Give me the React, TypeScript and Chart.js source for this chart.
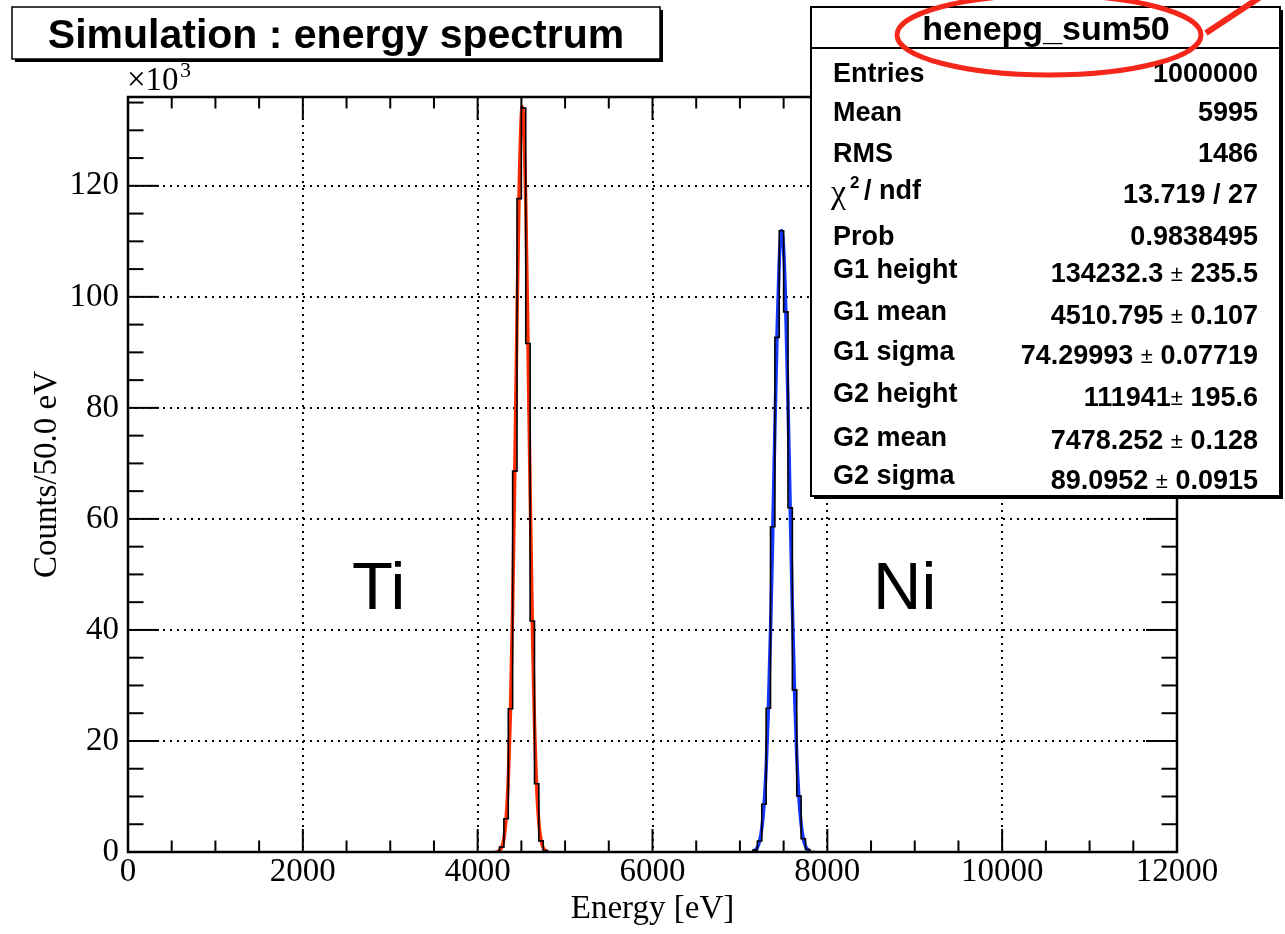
import React, { useEffect, useRef } from "react";
import { Chart, registerables } from "chart.js";

Chart.register(...registerables);

// ---------- data ----------
const BIN_WIDTH = 50;
const X_MIN = 0;
const X_MAX = 12000;
const Y_MAX = 136000;

const TI_BIN_LOW = [4200, 4250, 4300, 4350, 4400, 4450, 4500, 4550, 4600, 4650, 4700, 4750, 4800];
const TI_COUNTS = [80, 870, 6000, 25800, 68600, 117700, 134000, 91600, 41600, 12300, 2000, 240, 15];

const NI_BIN_LOW = [7100, 7150, 7200, 7250, 7300, 7350, 7400, 7450, 7500, 7550, 7600, 7650, 7700, 7750, 7800];
const NI_COUNTS = [43, 340, 1970, 8600, 25900, 58600, 92700, 111900, 97300, 62000, 29200, 10100, 2400, 440, 60];

const TI_FIT_E = [4225, 4250, 4275, 4300, 4325, 4350, 4375, 4400, 4425, 4450, 4475, 4500, 4510, 4525, 4550, 4575, 4600, 4625, 4650, 4675, 4700, 4725, 4750, 4775, 4800];
const TI_FIT_Y = [82, 283, 872, 2399, 5890, 12900, 25260, 44150, 68900, 96040, 119520, 132820, 134230, 131800, 116780, 92400, 65290, 41200, 23210, 11680, 5247, 2105, 754, 241, 69];

const NI_FIT_E = [7150, 7175, 7200, 7225, 7250, 7275, 7300, 7325, 7350, 7375, 7400, 7425, 7450, 7475, 7478, 7500, 7525, 7550, 7575, 7600, 7625, 7650, 7675, 7700, 7725, 7750, 7775, 7800];
const NI_FIT_Y = [126, 342, 854, 1971, 4208, 8297, 15130, 25500, 39730, 57200, 76120, 93630, 106460, 111870, 111940, 108650, 97550, 80940, 62070, 44000, 28830, 17460, 9776, 5060, 2419, 1070, 437, 165];

const X_MAJOR = 2000;
const X_MINOR = 500;
const Y_MAJOR = 20000;
const Y_MINOR = 5000;

const TITLE = "Simulation : energy spectrum";
const X_TITLE = "Energy [eV]";
const Y_TITLE = "Counts/50.0 eV";
const STATS_NAME = "henepg_sum50";
const STAT_LABELS = ["Entries", "Mean", "RMS", "CHI", "Prob", "G1 height", "G1 mean", "G1 sigma", "G2 height", "G2 mean", "G2 sigma"];
const STAT_VALUES = ["1000000", "5995", "1486", "13.719 / 27", "0.9838495", "134232.3 \u00b1 235.5", "4510.795 \u00b1 0.107", "74.29993 \u00b1 0.07719", "111941\u00b1 195.6", "7478.252 \u00b1 0.128", "89.0952 \u00b1 0.0915"];
const PEAK_LABELS = ["Ti", "Ni"];

// ---------- helpers ----------
function histPoints() {
  const pts: { x: number; y: number }[] = [{ x: X_MIN, y: 0 }];
  TI_BIN_LOW.forEach((e, i) => pts.push({ x: e, y: TI_COUNTS[i] }));
  pts.push({ x: TI_BIN_LOW[TI_BIN_LOW.length - 1] + BIN_WIDTH, y: 0 });
  NI_BIN_LOW.forEach((e, i) => pts.push({ x: e, y: NI_COUNTS[i] }));
  pts.push({ x: NI_BIN_LOW[NI_BIN_LOW.length - 1] + BIN_WIDTH, y: 0 });
  pts.push({ x: X_MAX, y: 0 });
  return pts;
}

function tickValues(min: number, max: number, step: number) {
  const out: { value: number }[] = [];
  for (let v = min; v <= max + 1e-6; v += step) out.push({ value: v });
  return out;
}

const SERIF = "'Liberation Serif', 'DejaVu Serif', serif";
const SANS = "'Liberation Sans', Arial, sans-serif";

const decoPlugin = {
  id: "rootDeco",
  afterDatasetsDraw(chart: any) {
    const { ctx, chartArea: a, scales } = chart;
    const xs = scales.x;
    const ys = scales.y;
    ctx.save();
    ctx.strokeStyle = "#000";
    ctx.lineWidth = 2;
    const seg = (x1: number, y1: number, x2: number, y2: number) => {
      ctx.beginPath();
      ctx.moveTo(x1, y1);
      ctx.lineTo(x2, y2);
      ctx.stroke();
    };
    xs.ticks.forEach((t: any) => {
      const px = xs.getPixelForValue(t.value);
      const len = t.value % X_MAJOR === 0 ? 23 : 11.5;
      seg(px, a.bottom, px, a.bottom - len);
      seg(px, a.top, px, a.top + len);
    });
    ys.ticks.forEach((t: any) => {
      const py = ys.getPixelForValue(t.value);
      const len = t.value % Y_MAJOR === 0 ? 31 : 15.5;
      seg(a.left, py, a.left + len, py);
      seg(a.right, py, a.right - len, py);
    });
    ctx.lineWidth = 2.5;
    ctx.strokeRect(a.left, a.top, a.right - a.left, a.bottom - a.top);

    // peak labels
    ctx.fillStyle = "#000";
    ctx.font = `67px ${SANS}`;
    ctx.textAlign = "left";
    ctx.textBaseline = "alphabetic";
    ctx.fillText(PEAK_LABELS[0], 352, 609);
    ctx.fillText(PEAK_LABELS[1], 873, 609);

    // x10^3
    ctx.font = `33px ${SERIF}`;
    ctx.fillText("\u00d710", 127, 90);
    ctx.font = `22px ${SERIF}`;
    ctx.fillText("3", 180, 77);
    ctx.restore();
  },
  afterDraw(chart: any) {
    const { ctx } = chart;
    ctx.save();
    // title box
    ctx.fillStyle = "#000";
    ctx.fillRect(15, 10, 648, 52);
    ctx.fillStyle = "#fff";
    ctx.fillRect(12, 7, 648, 52);
    ctx.strokeStyle = "#000";
    ctx.lineWidth = 1.5;
    ctx.strokeRect(12, 7, 648, 52);
    ctx.fillStyle = "#000";
    ctx.font = `bold 41px ${SANS}`;
    ctx.textAlign = "center";
    ctx.textBaseline = "alphabetic";
    ctx.fillText(TITLE, 336, 48);

    // stats box
    ctx.fillStyle = "#000";
    ctx.fillRect(814, 10, 469, 489);
    ctx.fillStyle = "#fff";
    ctx.fillRect(811, 7, 469, 489);
    ctx.lineWidth = 2;
    ctx.strokeRect(811, 7, 469, 489);
    ctx.beginPath();
    ctx.moveTo(811, 48);
    ctx.lineTo(1280, 48);
    ctx.stroke();
    ctx.fillStyle = "#000";
    ctx.font = `bold 34px ${SANS}`;
    ctx.textAlign = "center";
    ctx.fillText(STATS_NAME, 1046, 40);

    const labelBase = [82, 121, 162, 199, 245, 278, 320, 360, 402, 446, 484];
    const valueBase = [82, 121, 162, 203, 245, 282, 324, 364, 406, 449, 489];
    const BOLD = `bold 27px ${SANS}`;
    const PM = `22px ${SANS}`;
    STAT_LABELS.forEach((lab, i) => {
      ctx.textAlign = "left";
      ctx.font = BOLD;
      if (lab === "CHI") {
        ctx.font = `34px ${SERIF}`;
        ctx.fillText("\u03c7", 831, labelBase[i] + 4);
        ctx.font = `bold 17px ${SANS}`;
        ctx.fillText("2", 850, labelBase[i] - 11);
        ctx.font = BOLD;
        ctx.fillText("/ ndf", 864, labelBase[i]);
      } else {
        ctx.fillText(lab, 833, labelBase[i]);
      }
      const val = STAT_VALUES[i];
      const k = val.indexOf("\u00b1");
      ctx.textAlign = "right";
      if (k < 0) {
        ctx.font = BOLD;
        ctx.fillText(val, 1258, valueBase[i]);
      } else {
        const before = val.slice(0, k);
        const after = val.slice(k + 1);
        let x = 1258;
        ctx.font = BOLD;
        ctx.fillText(after, x, valueBase[i]);
        x -= ctx.measureText(after).width;
        ctx.font = PM;
        ctx.fillText("\u00b1", x, valueBase[i] - 1);
        x -= ctx.measureText("\u00b1").width;
        ctx.font = BOLD;
        ctx.fillText(before, x, valueBase[i]);
      }
    });

    // red annotation ellipse and stroke
    ctx.strokeStyle = "#f5261a";
    ctx.lineWidth = 5;
    ctx.beginPath();
    ctx.ellipse(1049, 35, 152, 40, 0, 0, Math.PI * 2);
    ctx.stroke();
    ctx.lineWidth = 6;
    ctx.beginPath();
    ctx.moveTo(1206, 33);
    ctx.lineTo(1265, -6);
    ctx.stroke();
    ctx.restore();
  },
};

export default function App() {
  const ref = useRef<HTMLCanvasElement | null>(null);
  useEffect(() => {
    if (!ref.current) return;
    const chart = new Chart(ref.current, {
      type: "line",
      data: {
        datasets: [
          {
            label: "hist",
            data: histPoints(),
            stepped: "before",
            borderColor: "#000",
            borderWidth: 1.6,
            pointRadius: 0,
            fill: false,
          },
          {
            label: "G1",
            data: TI_FIT_E.map((e, i) => ({ x: e, y: TI_FIT_Y[i] })),
            borderColor: "#ff2a00",
            borderWidth: 3.5,
            pointRadius: 0,
            cubicInterpolationMode: "monotone",
            fill: false,
          },
          {
            label: "G2",
            data: NI_FIT_E.map((e, i) => ({ x: e, y: NI_FIT_Y[i] })),
            borderColor: "#1236ff",
            borderWidth: 3.5,
            pointRadius: 0,
            cubicInterpolationMode: "monotone",
            fill: false,
          },
        ],
      } as any,
      options: {
        responsive: false,
        animation: false,
        devicePixelRatio: 1,
        layout: { padding: { top: 97, right: 108, left: 0, bottom: 0 } },
        plugins: { legend: { display: false }, tooltip: { enabled: false }, title: { display: false } },
        scales: {
          x: {
            type: "linear",
            min: X_MIN,
            max: X_MAX,
            afterBuildTicks: (s: any) => {
              s.ticks = tickValues(X_MIN, X_MAX, X_MINOR);
            },
            ticks: {
              autoSkip: false,
              maxRotation: 0,
              minRotation: 0,
              padding: 1,
              color: "#000",
              font: { family: SERIF, size: 33 },
              callback: (v: any) => (Number(v) % X_MAJOR === 0 ? String(v) : ""),
            },
            grid: {
              drawTicks: false,
              lineWidth: 2,
              color: (c: any) =>
                c.tick && c.tick.value % X_MAJOR === 0 && c.tick.value > X_MIN && c.tick.value < X_MAX ? "#000" : "rgba(0,0,0,0)",
            },
            border: { display: false, dash: [2, 5] },
            title: { display: true, text: X_TITLE, color: "#000", font: { family: SERIF, size: 33 }, padding: { top: 0, bottom: 5 } },
            afterFit: (s: any) => {
              s.height = 82;
            },
          },
          y: {
            type: "linear",
            min: 0,
            max: Y_MAX,
            afterBuildTicks: (s: any) => {
              s.ticks = tickValues(0, Y_MAX, Y_MINOR);
            },
            ticks: {
              autoSkip: false,
              padding: 9,
              color: "#000",
              font: { family: SERIF, size: 33 },
              callback: (v: any) => (Number(v) % Y_MAJOR === 0 ? String(Number(v) / 1000) : ""),
            },
            grid: {
              drawTicks: false,
              lineWidth: 2,
              color: (c: any) => (c.tick && c.tick.value % Y_MAJOR === 0 && c.tick.value > 0 ? "#000" : "rgba(0,0,0,0)"),
            },
            border: { display: false, dash: [2, 5] },
            title: { display: true, text: Y_TITLE, color: "#000", font: { family: SERIF, size: 33 }, padding: { top: 28, bottom: 0 } },
            afterFit: (s: any) => {
              s.width = 128;
            },
          },
        },
      } as any,
      plugins: [decoPlugin],
    });
    return () => chart.destroy();
  }, []);
  return (
    <div style={{ position: "absolute", left: 0, top: 0, width: 1285, height: 934, background: "#fff" }}>
      <canvas ref={ref} width={1285} height={934} style={{ display: "block" }} />
    </div>
  );
}
